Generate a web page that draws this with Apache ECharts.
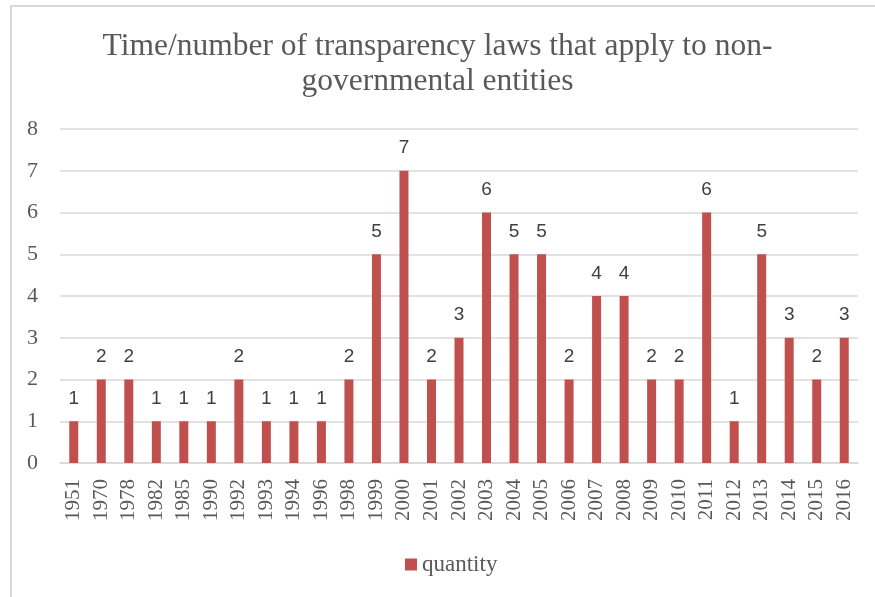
<!DOCTYPE html>
<html>
<head>
    <meta charset="utf-8">
    <title>ECharts</title>
    <script src="https://cdn.jsdelivr.net/npm/echarts@6/dist/echarts.min.js"></script>
    <style>
        body { margin: 0; }
        #frame {
            position: absolute; left: 10px; top: 5px; right: 0; bottom: 0;
            border-left: 2px solid #d9d9d9; border-top: 2px solid #d9d9d9;
        }
    </style>
</head>
<body>
<div id="frame"></div>
<div id="main" style="position:absolute;left:0;top:0;width: 875px;height:597px;"></div>
<script type="text/javascript">
    // years on the x axis
    var years = ['1951', '1970', '1978', '1982', '1985', '1990', '1992', '1993', '1994', '1996',
        '1998', '1999', '2000', '2001', '2002', '2003', '2004', '2005', '2006', '2007',
        '2008', '2009', '2010', '2011', '2012', '2013', '2014', '2015', '2016'];
    // number of laws per year
    var quantity = [1, 2, 2, 1, 1, 1, 2, 1, 1, 1,
        2, 5, 7, 2, 3, 6, 5, 5, 2, 4,
        4, 2, 2, 6, 1, 5, 3, 2, 3];

    var serif = '"Liberation Serif", "Times New Roman", serif';
    var myChart = echarts.init(document.getElementById('main'));

    myChart.setOption({
        title: {
            text: 'Time/number of transparency laws that apply to non-\ngovernmental entities',
            left: 'center',
            top: 24,
            padding: [5, 5, 5, 32],   // nudge the title a bit right, like the original
            textStyle: {
                fontFamily: serif,
                fontSize: 31.5,
                fontWeight: 'normal',
                color: '#595959',
                lineHeight: 35
            }
        },
        legend: {
            bottom: 16,
            left: 400,
            itemWidth: 12,
            itemHeight: 12,
            itemGap: 5,
            icon: 'rect',
            textStyle: { fontFamily: serif, fontSize: 23, color: '#595959' },
            data: ['quantity']
        },
        grid: { left: 60, right: 17, top: 129, bottom: 134 },
        xAxis: {
            type: 'category',
            data: years,
            axisTick: { show: false },
            axisLine: { lineStyle: { color: '#d9d9d9', width: 1.5 } },
            axisLabel: {
                rotate: 90,
                interval: 0,
                margin: 16,
                fontFamily: serif,
                fontSize: 21,
                color: '#595959'
            }
        },
        yAxis: {
            type: 'value',
            min: 0,
            max: 8,
            interval: 1,
            axisLine: { show: false },
            axisTick: { show: false },
            splitLine: { lineStyle: { color: '#d9d9d9', width: 1.5 } },
            axisLabel: {
                margin: 22,
                fontFamily: serif,
                fontSize: 22,
                color: '#595959'
            }
        },
        series: [
            {
                name: 'quantity',
                type: 'bar',
                data: quantity,
                barWidth: 9,
                itemStyle: { color: '#C0504D' },
                label: {
                    show: true,
                    position: 'top',
                    distance: 13,
                    fontFamily: '"Liberation Sans", Arial, sans-serif',
                    fontSize: 19,
                    color: '#404040'
                }
            }
        ]
    });
</script>
</body>
</html>
